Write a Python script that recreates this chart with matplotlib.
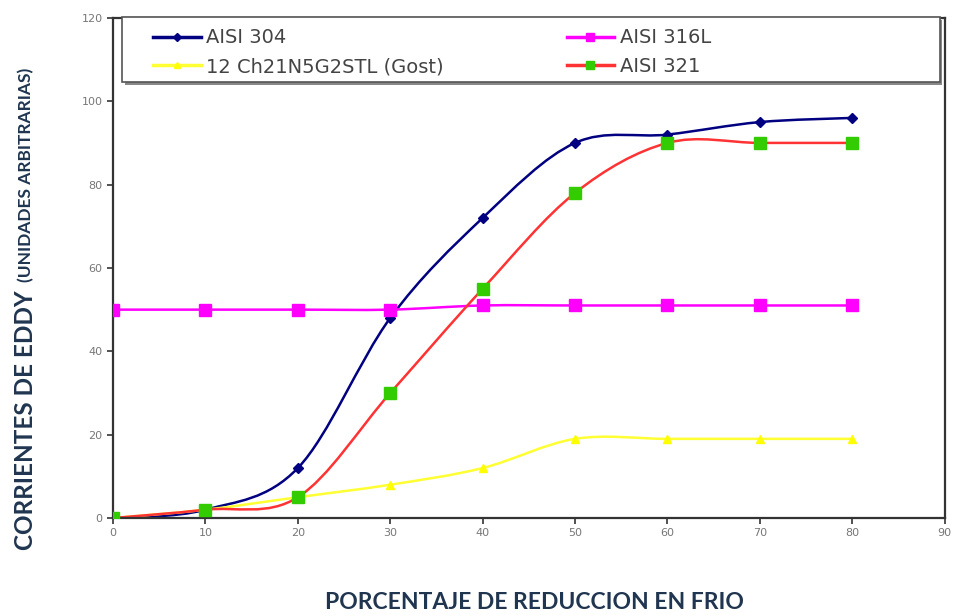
import numpy as np
import matplotlib.pyplot as plt
from matplotlib.path import Path
from matplotlib.patches import PathPatch, Rectangle
from matplotlib.lines import Line2D

# reduction percentage
x = [0, 10, 20, 30, 40, 50, 60, 70, 80]

# eddy current readings (arbitrary units)
aisi_304 = [0, 2, 12, 48, 72, 90, 92, 95, 96]
aisi_316l = [50, 50, 50, 50, 51, 51, 51, 51, 51]
gost = [0, 2, 5, 8, 12, 19, 19, 19, 19]
aisi_321 = [0, 2, 5, 30, 55, 78, 90, 90, 90]


def smooth_path(xs, ys, t=1/6):
    # Excel-like smoothed line: bezier through the points
    pts = np.column_stack([xs, ys]).astype(float)
    verts = [pts[0]]
    codes = [Path.MOVETO]
    n = len(pts)
    for i in range(n - 1):
        p0 = pts[max(i - 1, 0)]
        p1 = pts[i]
        p2 = pts[i + 1]
        p3 = pts[min(i + 2, n - 1)]
        c1 = p1 + (p2 - p0) * t
        c2 = p2 - (p3 - p1) * t
        verts += [c1, c2, p2]
        codes += [Path.CURVE4] * 3
    return Path(verts, codes)


fig = plt.figure(figsize=(9.62, 6.16), dpi=100)
ax = fig.add_axes([0.1175, 0.159, 0.8645, 0.812])

series = [
    (aisi_304, '#000080', '#000080', 'D', 5, 'AISI 304'),
    (aisi_316l, '#ff00ff', '#ff00ff', 's', 8, 'AISI 316L'),
    (gost, '#ffff33', '#ffff00', '^', 6, '12 Ch21N5G2STL (Gost)'),
    (aisi_321, '#ff3333', '#33cc00', 's', 8, 'AISI 321'),
]

handles = []
for ys, lc, mc, mk, ms, lab in series:
    ax.add_patch(PathPatch(smooth_path(x, ys), fill=False, edgecolor=lc, lw=1.8, zorder=2))
    ax.plot(x, ys, ls='none', marker=mk, ms=ms, color=mc, zorder=3)
    handles.append(Line2D([], [], color=lc, lw=2.5, marker=mk, ms=ms * 0.75,
                          markerfacecolor=mc, markeredgecolor=mc, label=lab))

ax.set_xlim(0, 90)
ax.set_ylim(0, 120)
ax.set_xticks(range(0, 91, 10))
ax.set_yticks(range(0, 121, 20))
ax.tick_params(direction='out', length=4, width=1.2, colors='#333333',
               labelcolor='#777777', labelsize=8)
for s in ax.spines.values():
    s.set_color('#333333')
    s.set_linewidth(1.6)

# legend box with shadow, drawn by hand so columns sit where they do in the original
ax.add_patch(Rectangle((0.014, 0.866), 0.983, 0.13, transform=ax.transAxes,
                       facecolor='#888888', edgecolor='none', zorder=4, clip_on=False))
ax.add_patch(Rectangle((0.011, 0.872), 0.983, 0.13, transform=ax.transAxes,
                       facecolor='white', edgecolor='#555555', lw=1.2, zorder=4.1,
                       clip_on=False))

order = [handles[0], handles[2], handles[1], handles[3]]
leg = ax.legend(handles=order, ncol=2, loc='upper left', bbox_to_anchor=(0.048, 0.979),
                frameon=False, borderpad=0, borderaxespad=0, handlelength=2.45,
                handletextpad=0.3, columnspacing=6.3, labelspacing=0.5,
                prop={'family': 'DejaVu Sans', 'size': 14})
leg.set_zorder(5)
for t in leg.get_texts():
    t.set_color('#444444')

lab_col = '#1f3550'
fig.text(0.027, 0.107, 'CORRIENTES DE EDDY', rotation=90, ha='center', va='bottom',
         fontsize=17.5, fontweight='bold', family='Lato', color=lab_col)
fig.text(0.027, 0.543, '(UNIDADES ARBITRARIAS)', rotation=90, ha='center', va='bottom',
         fontsize=12.5, fontweight='bold', family='Lato', color=lab_col)
fig.text(0.556, 0.022, 'PORCENTAJE DE REDUCCION EN FRIO', ha='center', va='center',
         fontsize=16.5, fontweight='bold', family='Lato', color=lab_col)

fig.savefig('out.png', dpi=100)
